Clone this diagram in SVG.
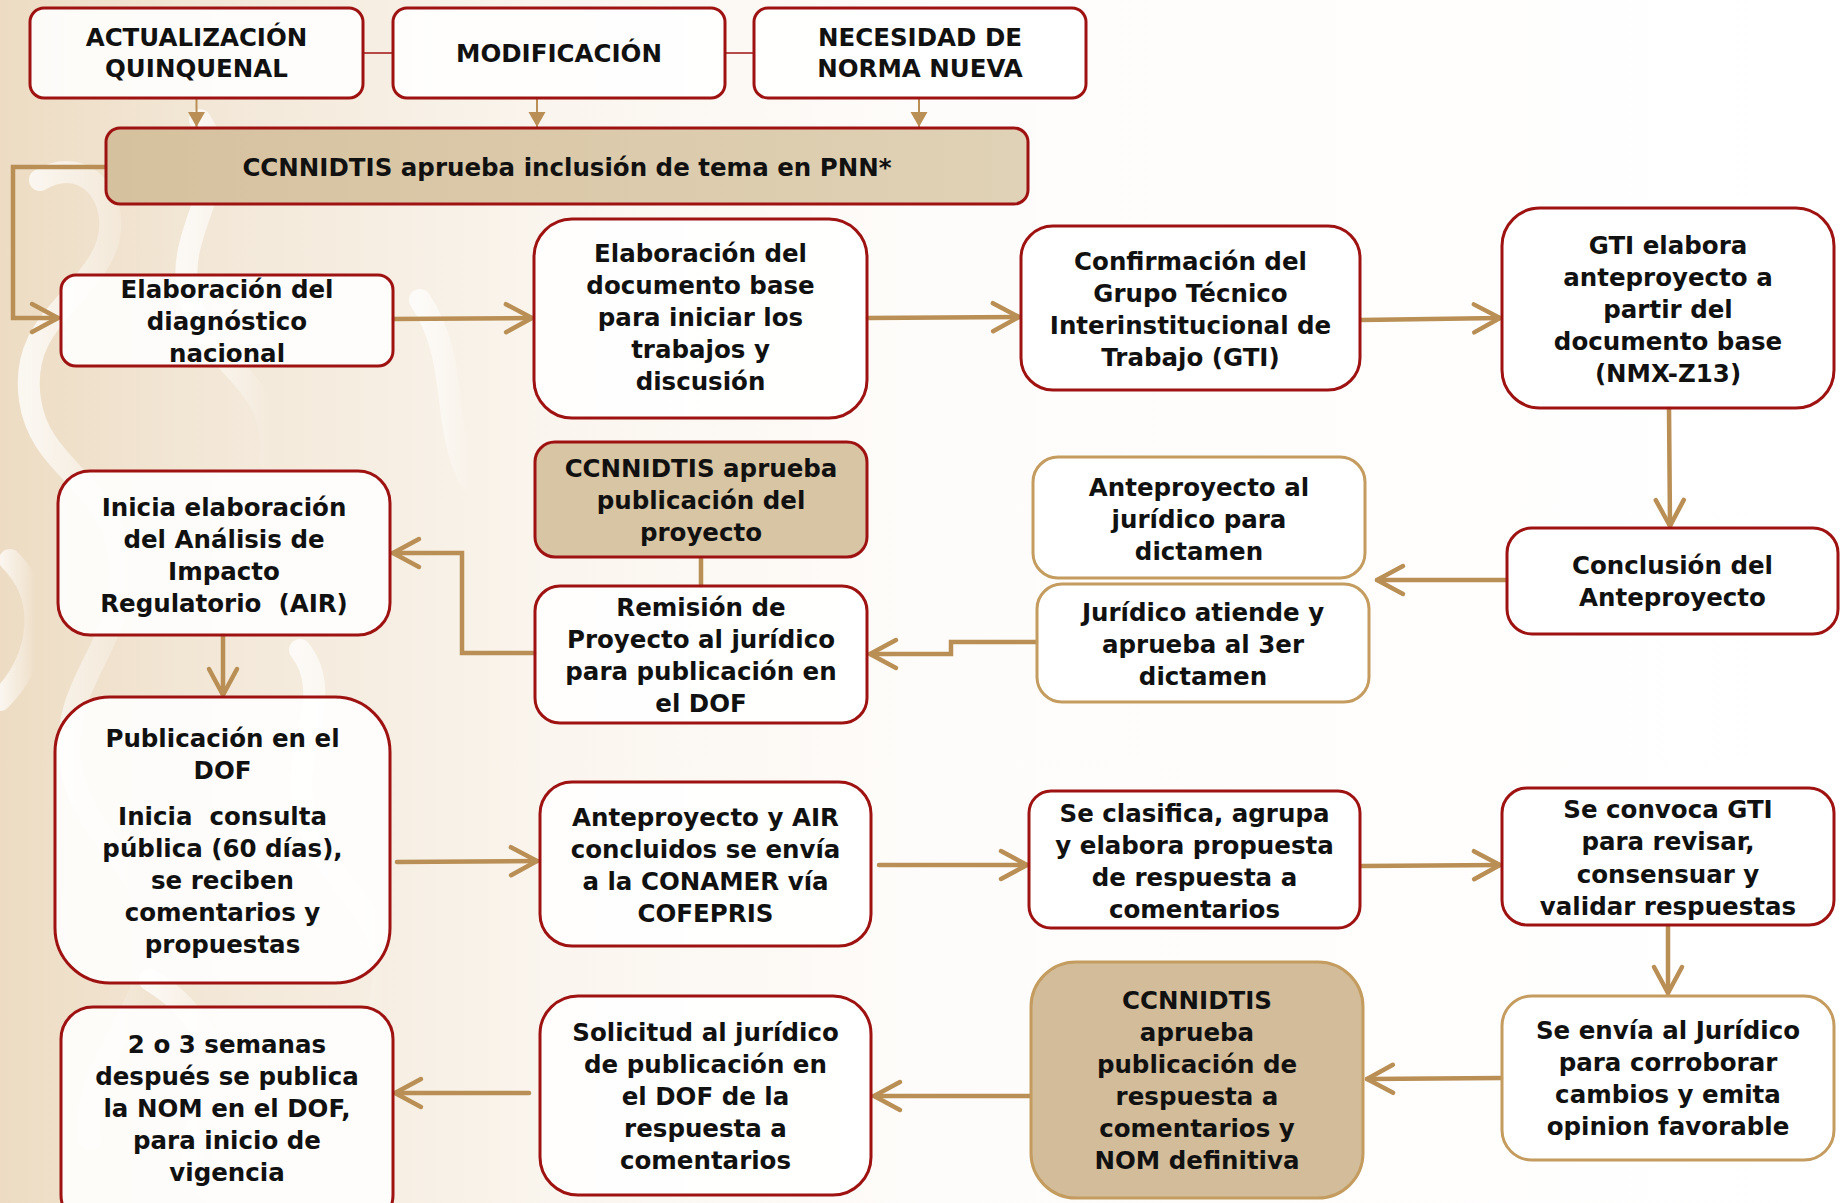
<svg xmlns="http://www.w3.org/2000/svg" width="1841" height="1203" viewBox="0 0 1841 1203">
<style>
  .box { fill: #ffffff; fill-opacity: 0.88; stroke: #9e1212; stroke-width: 3; }
  .tanbox { fill: #ffffff; fill-opacity: 0.9; stroke: #c49c5f; stroke-width: 3; }
  .dark { fill: #d8c5a3; stroke: #9e1212; stroke-width: 3; }
  .darktan { fill: #d2bc9a; stroke: #c49c5f; stroke-width: 3; }
  text { font-family: "DejaVu Sans", "Liberation Sans", sans-serif; font-weight: bold; font-size: 24.5px; fill: #111111; text-anchor: middle; }
  .c { fill: none; stroke: #b98f55; stroke-width: 4.5; stroke-linecap: round; stroke-linejoin: miter; }
  .thin { fill: none; stroke: #b98f55; stroke-width: 2; }
  .link { fill: none; stroke: #9e1212; stroke-width: 1.5; }
</style>
<defs>
  <marker id="chev" markerUnits="userSpaceOnUse" markerWidth="40" markerHeight="40" viewBox="-32 -20 40 40" refX="0" refY="0" orient="auto">
    <path d="M-26,-14 L0,0 L-26,14" fill="none" stroke="#b98f55" stroke-width="4.5" stroke-linecap="round" stroke-linejoin="round"/>
  </marker>
  <marker id="tri" markerUnits="userSpaceOnUse" markerWidth="20" markerHeight="20" viewBox="-16 -10 20 20" refX="0" refY="0" orient="auto">
    <path d="M-15,-8.5 L0,0 L-15,8.5 Z" fill="#b98f55"/>
  </marker>
  <linearGradient id="bg" x1="0" y1="0" x2="1" y2="0">
    <stop offset="0" stop-color="#eddcc3"/>
    <stop offset="0.12" stop-color="#f3e8d8"/>
    <stop offset="0.3" stop-color="#faf5ee"/>
    <stop offset="0.5" stop-color="#fefcfa"/>
    <stop offset="1" stop-color="#ffffff"/>
  </linearGradient>
  <linearGradient id="pnn" x1="0" y1="0" x2="1" y2="0">
    <stop offset="0" stop-color="#d6c19e"/>
    <stop offset="1" stop-color="#e0d2b6"/>
  </linearGradient>
  <linearGradient id="fade" x1="0" y1="0" x2="1" y2="0">
    <stop offset="0" stop-color="#ffffff" stop-opacity="0.75"/>
    <stop offset="0.6" stop-color="#ffffff" stop-opacity="0.35"/>
    <stop offset="1" stop-color="#ffffff" stop-opacity="0"/>
  </linearGradient>
</defs>

<rect x="0" y="0" width="1841" height="1203" fill="url(#bg)"/>
<g id="background-pattern" fill="none" stroke="url(#fade)" stroke-width="22" stroke-linecap="round">
  <path d="M40,180 C90,150 130,210 100,260 C70,310 20,330 30,400 C40,470 110,480 120,560 C130,640 60,680 70,760 C80,840 150,860 150,940 C150,1020 80,1060 90,1140"/>
  <path d="M200,120 C240,180 170,230 190,300 C210,370 280,380 270,460"/>
  <path d="M300,650 C340,700 280,760 310,830 C340,900 400,920 380,1000"/>
  <path d="M10,560 C50,600 40,660 0,700"/>
  <path d="M150,980 C200,1010 230,1060 200,1120 C180,1160 200,1190 230,1203"/>
  <path d="M420,300 C460,360 440,420 470,480"/>
</g>

<g id="connectors">
  <path class="link" d="M363,53 H393"/>
  <path class="link" d="M725,53 H754"/>
  <path class="thin" d="M196.5,98 V127" marker-end="url(#tri)"/>
  <path class="thin" d="M537,98 V127" marker-end="url(#tri)"/>
  <path class="thin" d="M919,98 V127" marker-end="url(#tri)"/>
  <path class="c" d="M106,167 H13 V318 H58" marker-end="url(#chev)"/>
  <path class="c" d="M393,319 L532,318" marker-end="url(#chev)"/>
  <path class="c" d="M867,318 L1019,317" marker-end="url(#chev)"/>
  <path class="c" d="M1361,320 L1500,318" marker-end="url(#chev)"/>
  <path class="c" d="M1669,408 L1670,526" marker-end="url(#chev)"/>
  <path class="c" d="M1507,580 L1377,580" marker-end="url(#chev)"/>
  <path class="c" d="M1037,642 H951 V654 H870" marker-end="url(#chev)"/>
  <path class="c" d="M535,653 H462 V553 H393" marker-end="url(#chev)"/>
  <path class="c" d="M701,557 V586"/>
  <path class="c" d="M223,635 V695" marker-end="url(#chev)"/>
  <path class="c" d="M397,862 L537,861" marker-end="url(#chev)"/>
  <path class="c" d="M879,865 L1027,865" marker-end="url(#chev)"/>
  <path class="c" d="M1362,866 L1500,865" marker-end="url(#chev)"/>
  <path class="c" d="M1668,925 V993" marker-end="url(#chev)"/>
  <path class="c" d="M1502,1078 L1367,1079" marker-end="url(#chev)"/>
  <path class="c" d="M1031,1096 L874,1096" marker-end="url(#chev)"/>
  <path class="c" d="M529,1093 L395,1093" marker-end="url(#chev)"/>
</g>

<g id="n-actualizacion">
  <rect class="box" x="30" y="8" width="333" height="90" rx="14"/>
  <text x="196.5" y="46">ACTUALIZACIÓN</text>
  <text x="196.5" y="77">QUINQUENAL</text>
</g>
<g id="n-modificacion">
  <rect class="box" x="393" y="8" width="332" height="90" rx="14"/>
  <text x="559" y="62">MODIFICACIÓN</text>
</g>
<g id="n-necesidad">
  <rect class="box" x="754" y="8" width="332" height="90" rx="14"/>
  <text x="920" y="46">NECESIDAD DE</text>
  <text x="920" y="77">NORMA NUEVA</text>
</g>
<g id="n-pnn">
  <rect x="106" y="128" width="922" height="76" rx="14" fill="url(#pnn)" stroke="#9e1212" stroke-width="3"/>
  <text x="567" y="176">CCNNIDTIS aprueba inclusión de tema en PNN*</text>
</g>
<g id="n-diagnostico">
  <rect class="box" x="61" y="275" width="332" height="91" rx="15"/>
  <text x="227" y="298">Elaboración del</text>
  <text x="227" y="330">diagnóstico</text>
  <text x="227" y="362">nacional</text>
</g>
<g id="n-documento">
  <rect class="box" x="534" y="219" width="333" height="199" rx="38"/>
  <text x="700.5" y="262">Elaboración del</text>
  <text x="700.5" y="294">documento base</text>
  <text x="700.5" y="326">para iniciar los</text>
  <text x="700.5" y="358">trabajos y</text>
  <text x="700.5" y="390">discusión</text>
</g>
<g id="n-confirmacion">
  <rect class="box" x="1021" y="226" width="339" height="164" rx="32"/>
  <text x="1190.5" y="270">Confirmación del</text>
  <text x="1190.5" y="302">Grupo Técnico</text>
  <text x="1190.5" y="334">Interinstitucional de</text>
  <text x="1190.5" y="366">Trabajo (GTI)</text>
</g>
<g id="n-gti">
  <rect class="box" x="1502" y="208" width="332" height="200" rx="38"/>
  <text x="1668" y="254">GTI elabora</text>
  <text x="1668" y="286">anteproyecto a</text>
  <text x="1668" y="318">partir del</text>
  <text x="1668" y="350">documento base</text>
  <text x="1668" y="382">(NMX-Z13)</text>
</g>
<g id="n-conclusion">
  <rect class="box" x="1507" y="528" width="331" height="106" rx="25"/>
  <text x="1672.5" y="574">Conclusión del</text>
  <text x="1672.5" y="606">Anteproyecto</text>
</g>
<g id="n-anteproyecto-juridico">
  <rect class="tanbox" x="1033" y="457" width="332" height="121" rx="25"/>
  <text x="1199" y="496">Anteproyecto al</text>
  <text x="1199" y="528">jurídico para</text>
  <text x="1199" y="560">dictamen</text>
</g>
<g id="n-juridico-atiende">
  <rect class="tanbox" x="1037" y="584" width="332" height="118" rx="25"/>
  <text x="1203" y="621">Jurídico atiende y</text>
  <text x="1203" y="653">aprueba al 3er</text>
  <text x="1203" y="685">dictamen</text>
</g>
<g id="n-air">
  <rect class="box" x="58" y="471" width="332" height="164" rx="32"/>
  <text x="224" y="516">Inicia elaboración</text>
  <text x="224" y="548">del Análisis de</text>
  <text x="224" y="580">Impacto</text>
  <text x="224" y="612" xml:space="preserve">Regulatorio  (AIR)</text>
</g>
<g id="n-aprueba-proyecto">
  <rect class="dark" x="535" y="442" width="332" height="115" rx="20"/>
  <text x="701" y="477">CCNNIDTIS aprueba</text>
  <text x="701" y="509">publicación del</text>
  <text x="701" y="541">proyecto</text>
</g>
<g id="n-remision">
  <rect class="box" x="535" y="586" width="332" height="137" rx="25"/>
  <text x="701" y="616">Remisión de</text>
  <text x="701" y="648">Proyecto al jurídico</text>
  <text x="701" y="680">para publicación en</text>
  <text x="701" y="712">el DOF</text>
</g>
<g id="n-publicacion">
  <rect class="box" x="55" y="697" width="335" height="286" rx="55"/>
  <text x="222.5" y="747">Publicación en el</text>
  <text x="222.5" y="779">DOF</text>
  <text x="222.5" y="825" xml:space="preserve">Inicia  consulta</text>
  <text x="222.5" y="857">pública (60 días),</text>
  <text x="222.5" y="889">se reciben</text>
  <text x="222.5" y="921">comentarios y</text>
  <text x="222.5" y="953">propuestas</text>
</g>
<g id="n-anteproyecto-air">
  <rect class="box" x="540" y="782" width="331" height="164" rx="32"/>
  <text x="705.5" y="826">Anteproyecto y AIR</text>
  <text x="705.5" y="858">concluidos se envía</text>
  <text x="705.5" y="890">a la CONAMER vía</text>
  <text x="705.5" y="922">COFEPRIS</text>
</g>
<g id="n-clasifica">
  <rect class="box" x="1029" y="791" width="331" height="137" rx="22"/>
  <text x="1194.5" y="822">Se clasifica, agrupa</text>
  <text x="1194.5" y="854">y elabora propuesta</text>
  <text x="1194.5" y="886">de respuesta a</text>
  <text x="1194.5" y="918">comentarios</text>
</g>
<g id="n-convoca">
  <rect class="box" x="1502" y="788" width="332" height="137" rx="25"/>
  <text x="1668" y="818">Se convoca GTI</text>
  <text x="1668" y="850">para revisar,</text>
  <text x="1668" y="883">consensuar y</text>
  <text x="1668" y="915">validar respuestas</text>
</g>
<g id="n-envia-juridico">
  <rect class="tanbox" x="1502" y="996" width="332" height="164" rx="30"/>
  <text x="1668" y="1039">Se envía al Jurídico</text>
  <text x="1668" y="1071">para corroborar</text>
  <text x="1668" y="1103">cambios y emita</text>
  <text x="1668" y="1135">opinion favorable</text>
</g>
<g id="n-aprueba-definitiva">
  <rect class="darktan" x="1031" y="962" width="332" height="236" rx="45"/>
  <text x="1197" y="1009">CCNNIDTIS</text>
  <text x="1197" y="1041">aprueba</text>
  <text x="1197" y="1073">publicación de</text>
  <text x="1197" y="1105">respuesta a</text>
  <text x="1197" y="1137">comentarios y</text>
  <text x="1197" y="1169">NOM definitiva</text>
</g>
<g id="n-solicitud">
  <rect class="box" x="540" y="996" width="331" height="199" rx="38"/>
  <text x="705.5" y="1041">Solicitud al jurídico</text>
  <text x="705.5" y="1073">de publicación en</text>
  <text x="705.5" y="1105">el DOF de la</text>
  <text x="705.5" y="1137">respuesta a</text>
  <text x="705.5" y="1169">comentarios</text>
</g>
<g id="n-semanas">
  <rect class="box" x="61" y="1007" width="332" height="220" rx="32"/>
  <text x="227" y="1053">2 o 3 semanas</text>
  <text x="227" y="1085">después se publica</text>
  <text x="227" y="1117">la NOM en el DOF,</text>
  <text x="227" y="1149">para inicio de</text>
  <text x="227" y="1181">vigencia</text>
</g>
</svg>
